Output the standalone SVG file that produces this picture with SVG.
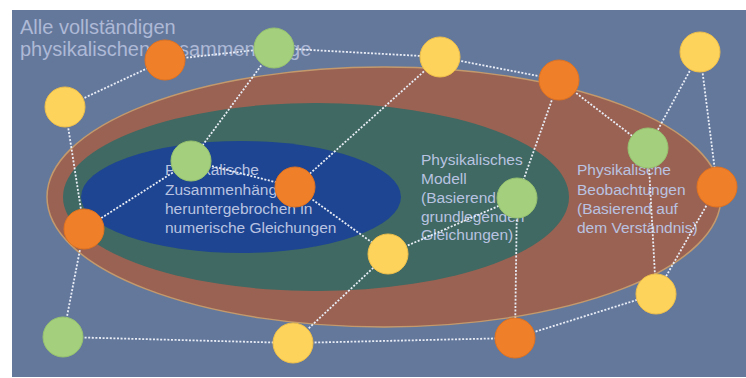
<svg xmlns="http://www.w3.org/2000/svg" width="746" height="378" viewBox="0 0 746 378">
  <style>
    .lbl { font-family: "Liberation Sans", Arial, sans-serif; fill: #b9c3e1; }
    .title { font-size: 20px; fill: #aeb9d6; }
    .txt { font-size: 15.5px; }
    .edge { fill: none; stroke: #e9edf6; stroke-width: 1.8; stroke-dasharray: 2 1.6; }
    .orange { fill: #f07f2a; stroke: #e07320; stroke-width: 1; }
    .green { fill: #a4cf7d; stroke: #96c26f; stroke-width: 1; }
    .yellow { fill: #fed35c; stroke: #eebf4a; stroke-width: 1; }
  </style>

  <!-- page and slide background -->
  <rect x="0" y="0" width="746" height="378" fill="#ffffff"/>
  <rect x="12" y="10" width="734" height="367" fill="#64789c"/>

  <!-- nested regions -->
  <g id="region-observations">
    <ellipse cx="384" cy="197" rx="337" ry="130" fill="#9a6253" stroke="#c49a6c" stroke-width="1.5"/>
  </g>
  <g id="region-model">
    <ellipse cx="316" cy="197" rx="253" ry="94" fill="#3f6962"/>
  </g>
  <g id="region-equations">
    <ellipse cx="241" cy="197" rx="160" ry="56" fill="#1e4591"/>
  </g>

  <!-- texts -->
  <g id="title" class="lbl title">
    <text x="20" y="34">Alle vollständigen</text>
    <text x="20" y="56">physikalischen Zusammenhänge</text>
  </g>
  <g id="label-equations" class="lbl txt">
    <text x="165" y="175">Physikalische</text>
    <text x="165" y="195">Zusammenhänge</text>
    <text x="165" y="214">heruntergebrochen in</text>
    <text x="165" y="233">numerische Gleichungen</text>
  </g>
  <g id="label-model" class="lbl txt">
    <text x="421" y="165">Physikalisches</text>
    <text x="421" y="184">Modell</text>
    <text x="421" y="203">(Basierend</text>
    <text x="421" y="222">grundlegenden</text>
    <text x="421" y="240">Gleichungen)</text>
  </g>
  <g id="label-observations" class="lbl txt">
    <text x="577" y="175">Physikalische</text>
    <text x="577" y="195">Beobachtungen</text>
    <text x="577" y="214">(Basierend auf</text>
    <text x="577" y="233">dem Verständnis)</text>
  </g>

  <!-- dotted connectors -->
  <g id="connectors" class="edge">
    <line x1="65" y1="107" x2="165" y2="60"/>
    <line x1="165" y1="60" x2="274" y2="48"/>
    <line x1="274" y1="48" x2="440" y2="57"/>
    <line x1="440" y1="57" x2="559" y2="80"/>
    <line x1="559" y1="80" x2="648" y2="148"/>
    <line x1="700" y1="52" x2="648" y2="148"/>
    <line x1="700" y1="52" x2="717" y2="187"/>
    <line x1="274" y1="48" x2="191" y2="161"/>
    <line x1="440" y1="57" x2="295" y2="187"/>
    <line x1="191" y1="161" x2="295" y2="187"/>
    <line x1="191" y1="161" x2="84" y2="229"/>
    <line x1="65" y1="107" x2="84" y2="229"/>
    <line x1="84" y1="229" x2="63" y2="337"/>
    <line x1="63" y1="337" x2="293" y2="343"/>
    <line x1="293" y1="343" x2="388" y2="254"/>
    <line x1="295" y1="187" x2="388" y2="254"/>
    <line x1="388" y1="254" x2="517" y2="198"/>
    <line x1="559" y1="80" x2="517" y2="198"/>
    <line x1="517" y1="198" x2="515" y2="338"/>
    <line x1="293" y1="343" x2="515" y2="338"/>
    <line x1="515" y1="338" x2="656" y2="294"/>
    <line x1="648" y1="148" x2="656" y2="294"/>
    <line x1="717" y1="187" x2="656" y2="294"/>
  </g>

  <!-- nodes -->
  <g id="n1"><circle class="orange" cx="165" cy="60" r="20"/></g>
  <g id="n2"><circle class="green" cx="274" cy="48" r="20"/></g>
  <g id="n3"><circle class="yellow" cx="440" cy="57" r="20"/></g>
  <g id="n4"><circle class="orange" cx="559" cy="80" r="20"/></g>
  <g id="n5"><circle class="yellow" cx="700" cy="52" r="20"/></g>
  <g id="n6"><circle class="yellow" cx="65" cy="107" r="20"/></g>
  <g id="n7"><circle class="green" cx="191" cy="161" r="20"/></g>
  <g id="n8"><circle class="orange" cx="295" cy="187" r="20"/></g>
  <g id="n9"><circle class="green" cx="648" cy="148" r="20"/></g>
  <g id="n10"><circle class="green" cx="517" cy="198" r="20"/></g>
  <g id="n11"><circle class="orange" cx="717" cy="187" r="20"/></g>
  <g id="n12"><circle class="orange" cx="84" cy="229" r="20"/></g>
  <g id="n13"><circle class="yellow" cx="388" cy="254" r="20"/></g>
  <g id="n14"><circle class="green" cx="63" cy="337" r="20"/></g>
  <g id="n15"><circle class="yellow" cx="293" cy="343" r="20"/></g>
  <g id="n16"><circle class="orange" cx="515" cy="338" r="20"/></g>
  <g id="n17"><circle class="yellow" cx="656" cy="294" r="20"/></g>
</svg>
